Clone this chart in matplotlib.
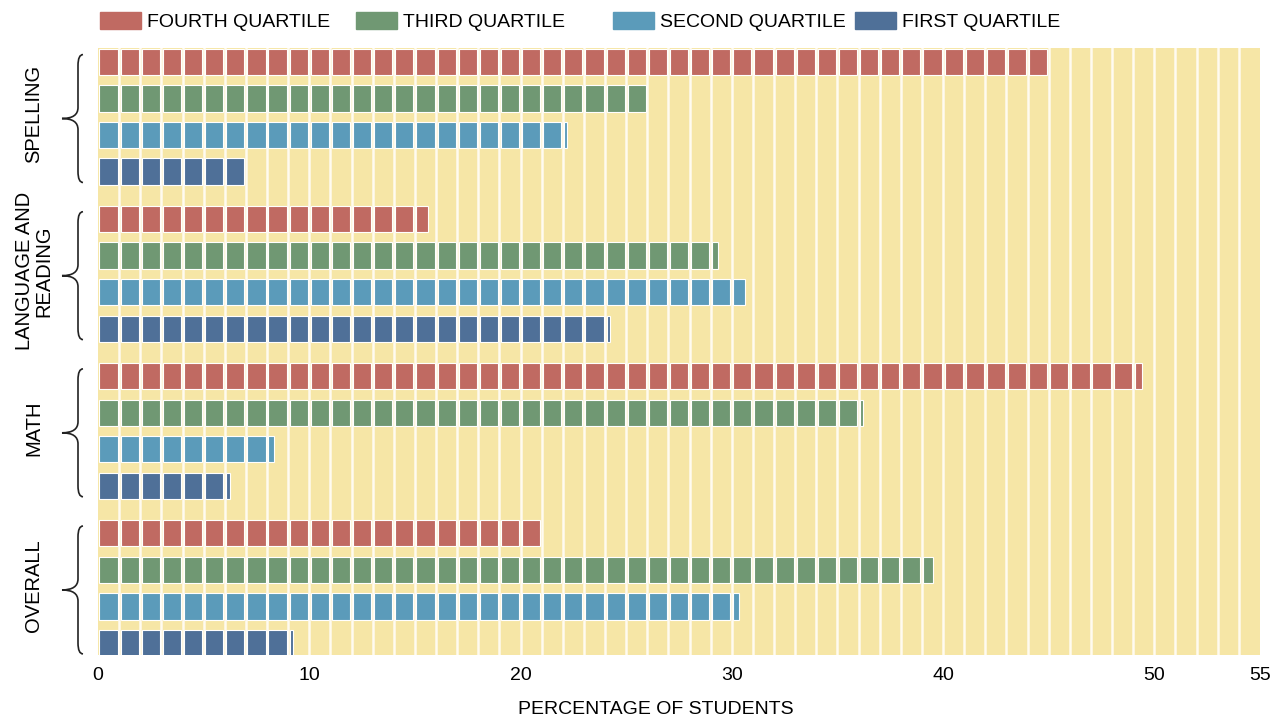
import numpy as np
import matplotlib.pyplot as plt
import matplotlib.transforms as mtransforms
from matplotlib.path import Path
from matplotlib.patches import PathPatch, Patch

plt.rcParams['font.family'] = ['Liberation Sans', 'DejaVu Sans']

groups = ['SPELLING', 'LANGUAGE AND\nREADING', 'MATH', 'OVERALL']
quartiles = ['FOURTH QUARTILE', 'THIRD QUARTILE', 'SECOND QUARTILE', 'FIRST QUARTILE']
colors = ['#c06a62', '#709873', '#5b9bba', '#4f7098']

fourth = [45, 15.7, 49.5, 21]
third = [26, 29.4, 36.1, 39.6]
second = [22.1, 30.7, 8.4, 30.4]
first = [7, 24.3, 6.3, 9.3]

xticks = [0, 10, 20, 30, 40, 50, 55]
values = [fourth, third, second, first]

fig = plt.figure(figsize=(12.74, 7.17), dpi=100)
ax = fig.add_axes([98 / 1274, 1 - 655 / 717, 1162 / 1274, 607 / 717])
ax.set_facecolor('#f6e6a6')
ax.set_xlim(0, 55)

group_gap = 0.3
ax.vlines(np.arange(1, 55), -1, 20, color='#fffbf0', lw=1.8, zorder=1)

row_y = {}
for g in range(len(groups)):
    for q in range(4):
        y = g * (4 + group_gap) + q
        row_y[(g, q)] = y
        v = values[q][g]
        n = int(np.ceil(v))
        lefts = np.arange(n) + 0.07
        widths = np.minimum(1, v - np.arange(n)) - 0.14
        widths = np.maximum(widths, 0.12)
        ax.barh([y] * n, widths, left=lefts, height=0.72,
                color=colors[q], edgecolor='white', linewidth=0.8, zorder=2)

last = 3 * (4 + group_gap) + 3
ax.set_ylim(last + 0.33, -0.38)
ax.set_yticks([])
ax.set_xticks(xticks)
ax.tick_params(axis='x', length=0, labelsize=14, pad=9)
for s in ax.spines.values():
    s.set_visible(False)
ax.set_xlabel('PERCENTAGE OF STUDENTS', fontsize=14, labelpad=12)
ax.xaxis.set_label_coords(0.48, -0.075)

# braces and group labels
tr = mtransforms.blended_transform_factory(fig.transFigure, ax.transData)
xs, xt, xe = 78 / 1274, 62 / 1274, 83 / 1274
for g, name in enumerate(groups):
    top = row_y[(g, 0)] - 0.2
    bot = row_y[(g, 3)] + 0.3
    mid = (top + bot) / 2
    verts = [(xe, top), (xs, top), (xs, top + 0.3), (xs, top + 0.6),
             (xs, mid - 0.3), (xs, mid), (xt, mid),
             (xs, mid), (xs, mid + 0.3),
             (xs, bot - 0.6), (xs, bot - 0.3), (xs, bot), (xe, bot)]
    codes = [Path.MOVETO, Path.CURVE3, Path.CURVE3, Path.LINETO,
             Path.LINETO, Path.CURVE3, Path.CURVE3,
             Path.CURVE3, Path.CURVE3,
             Path.LINETO, Path.LINETO, Path.CURVE3, Path.CURVE3]
    pp = PathPatch(Path(verts, codes), transform=tr, fill=False,
                   lw=1.2, color='#222222', clip_on=False)
    fig.add_artist(pp)
    t = fig.text(0, 0, name, rotation=90, ha='center', va='center',
                 fontsize=14.5, linespacing=1.0, transform=tr)
    t.set_position((34 / 1274, mid - 0.12))

# legend entries placed one by one, spacing in the original is uneven
legend_x = [100, 356, 613, 855]
for c, label, lx in zip(colors, quartiles, legend_x):
    fig.legend([Patch(color=c)], [label], loc='upper left',
               bbox_to_anchor=(lx / 1274, 0.983), frameon=False, fontsize=14,
               handlelength=2.1, handleheight=0.95, handletextpad=0.3,
               borderpad=0, borderaxespad=0)

fig.savefig('out.png', dpi=100)
